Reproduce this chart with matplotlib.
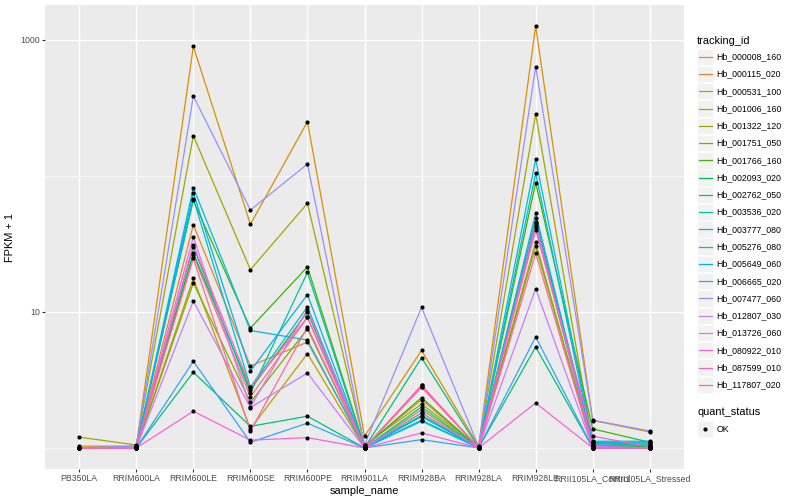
import numpy as np
import matplotlib
matplotlib.use("Agg")
import matplotlib.pyplot as plt
from matplotlib.patches import Rectangle
from matplotlib.lines import Line2D
from matplotlib.ticker import NullFormatter, FixedLocator

plt.rcParams["font.family"] = ["Liberation Sans", "DejaVu Sans"]

samples = ["PB350LA", "RRIM600LA", "RRIM600LE", "RRIM600SE", "RRIM600PE",
           "RRIM901LA", "RRIM928BA", "RRIM928LA", "RRIM928LE",
           "RRII105LA_Control", "RRII105LA_Stressed"]

tracking_ids = ["Hb_000008_160", "Hb_000115_020", "Hb_000531_100", "Hb_001006_160",
                "Hb_001322_120", "Hb_001751_050", "Hb_001766_160", "Hb_002093_020",
                "Hb_002762_050", "Hb_003536_020", "Hb_003777_080", "Hb_005276_080",
                "Hb_005649_060", "Hb_006665_020", "Hb_007477_060", "Hb_012807_030",
                "Hb_013726_060", "Hb_080922_010", "Hb_087599_010", "Hb_117807_020"]

# FPKM + 1, one row per tracking_id, columns follow samples
fpkm1 = [
    [1.00, 1.00, 26.0, 2.37, 9.10, 1.00, 2.80, 1.00, 46.0, 1.05, 1.02],
    [1.00, 1.00, 43.6, 4.00, 6.00, 1.02, 2.26, 1.00, 44.7, 1.10, 1.04],
    [1.03, 1.03, 892., 44.0, 250., 1.22, 5.20, 1.03, 1260., 1.59, 1.31],
    [1.00, 1.00, 17.6, 1.38, 4.93, 1.00, 1.91, 1.00, 32.6, 1.00, 1.00],
    [1.20, 1.05, 197., 20.4, 62.8, 1.05, 2.10, 1.02, 284., 1.10, 1.04],
    [1.00, 1.00, 16.3, 2.16, 7.50, 1.00, 1.81, 1.00, 30.4, 1.02, 1.02],
    [1.00, 1.02, 66.0, 7.60, 21.4, 1.02, 2.34, 1.00, 89.0, 1.38, 1.10],
    [1.00, 1.00, 27.0, 2.68, 10.0, 1.00, 1.73, 1.00, 42.0, 1.03, 1.03],
    [1.00, 1.00, 3.60, 1.44, 1.71, 1.00, 4.60, 1.00, 5.52, 1.00, 1.00],
    [1.00, 1.00, 30.0, 2.53, 19.5, 1.00, 2.00, 1.00, 53.0, 1.05, 1.06],
    [1.00, 1.00, 68.0, 2.80, 10.9, 1.00, 1.60, 1.00, 104., 1.08, 1.07],
    [1.00, 1.00, 82.0, 7.30, 6.20, 1.00, 1.57, 1.00, 132., 1.12, 1.12],
    [1.00, 1.00, 75.0, 3.67, 13.4, 1.00, 1.70, 1.00, 48.6, 1.10, 1.10],
    [1.00, 1.00, 4.33, 1.10, 1.52, 1.00, 1.15, 1.00, 6.54, 1.00, 1.00],
    [1.00, 1.03, 385., 56.0, 122., 1.05, 10.8, 1.02, 635., 1.60, 1.33],
    [1.00, 1.00, 12.0, 1.98, 3.55, 1.00, 1.81, 1.00, 14.8, 1.00, 1.00],
    [1.00, 1.00, 35.6, 2.00, 10.4, 1.00, 2.88, 1.00, 43.5, 1.03, 1.00],
    [1.00, 1.00, 1.86, 1.14, 1.19, 1.00, 1.29, 1.00, 2.14, 1.00, 1.00],
    [1.00, 1.00, 31.0, 2.80, 9.10, 1.00, 2.80, 1.00, 40.0, 1.22, 1.02],
    [1.00, 1.00, 24.7, 1.33, 7.75, 1.00, 2.88, 1.00, 27.0, 1.00, 1.00],
]

quant_status = ["OK"]


def hue_color(h, c=100.0, l=65.0):
    # polar Luv -> sRGB, like R's hcl()
    hr = np.deg2rad(h)
    u, v = c * np.cos(hr), c * np.sin(hr)
    xn, yn, zn = 95.047, 100.0, 108.883
    d = xn + 15 * yn + 3 * zn
    un, vn = 4 * xn / d, 9 * yn / d
    Y = yn * ((l + 16) / 116) ** 3
    up = u / (13 * l) + un
    vp = v / (13 * l) + vn
    X = 9 * Y * up / (4 * vp)
    Z = -X / 3 - 5 * Y + 3 * Y / vp
    m = np.array([[3.240479, -1.537150, -0.498535],
                  [-0.969256, 1.875992, 0.041556],
                  [0.055648, -0.204043, 1.057311]])
    rgb = m @ np.array([X, Y, Z]) / 100
    rgb = np.where(rgb > 0.0031308, 1.055 * np.abs(rgb) ** (1 / 2.4) - 0.055, 12.92 * rgb)
    return tuple(np.clip(rgb, 0, 1))


n = len(tracking_ids)
colors = [hue_color(15 + 360 / n * i) for i in range(n)]

fig = plt.figure(figsize=(8, 5), dpi=100)
W, H = 800, 500
ax = fig.add_axes([45 / W, 31 / H, 639 / W, 464 / H])
ax.set_facecolor("#EBEBEB")
for s in ax.spines.values():
    s.set_visible(False)

x = np.arange(len(samples))
for i, tid in enumerate(tracking_ids):
    ax.plot(x, fpkm1[i], color=colors[i], lw=0.9, zorder=2)
for i in range(n):
    ax.plot(x, fpkm1[i], "o", color="black", ms=3.0, mew=0, zorder=3)

ax.set_yscale("log")
vals = np.log10(np.array(fpkm1))
lo, hi = vals.min(), vals.max()
pad = 0.05 * (hi - lo)
ax.set_ylim(10 ** (lo - pad), 10 ** (hi + pad))
ax.set_xlim(-0.6, len(samples) - 0.4)

ax.yaxis.set_major_locator(FixedLocator([10, 1000]))
ax.set_yticklabels(["10", "1000"])
ax.yaxis.set_minor_locator(FixedLocator([1, 100]))
ax.yaxis.set_minor_formatter(NullFormatter())
ax.set_xticks(x)
ax.set_xticklabels(samples)
ax.grid(True, which="major", color="white", lw=1.0, zorder=0)
ax.grid(True, which="minor", axis="y", color="white", lw=0.5, zorder=0)
ax.set_axisbelow(True)
ax.tick_params(which="major", length=2.0, width=0.8, color="#333333",
               labelsize=6.3, labelcolor="#4D4D4D", pad=1.6)
ax.tick_params(which="minor", length=0)

ax.set_xlabel("sample_name", fontsize=7.9, labelpad=2)
ax.set_ylabel("FPKM + 1", fontsize=7.9, labelpad=4)

# legend: tracking_id
def fy(py):
    return 1 - py / H

fig.text(697 / W, fy(40.7), "tracking_id", fontsize=7.9, va="center", ha="left")
step = 17.27
for i, tid in enumerate(tracking_ids):
    cy = 56.7 + step * i
    fig.patches.append(Rectangle((697 / W, fy(cy + 8.2)), 16 / W, 16.4 / H,
                                 transform=fig.transFigure, facecolor="#F2F2F2",
                                 edgecolor="white", lw=0.5))
    fig.lines.append(Line2D([698.5 / W, 711.5 / W], [fy(cy), fy(cy)],
                            transform=fig.transFigure, color=colors[i], lw=0.9))
    fig.text(716.5 / W, fy(cy), tid, fontsize=6.3, va="center", ha="left")

fig.text(697 / W, fy(412.3), "quant_status", fontsize=7.9, va="center", ha="left")
cy = 429
fig.patches.append(Rectangle((697 / W, fy(cy + 8.2)), 16 / W, 16.4 / H,
                             transform=fig.transFigure, facecolor="#F2F2F2",
                             edgecolor="white", lw=0.5))
fig.lines.append(Line2D([705 / W], [fy(cy)], transform=fig.transFigure,
                        marker="o", color="black", ms=3.0, mew=0))
fig.text(716.5 / W, fy(cy), quant_status[0], fontsize=6.3, va="center", ha="left")

fig.savefig("out.png", dpi=100)
